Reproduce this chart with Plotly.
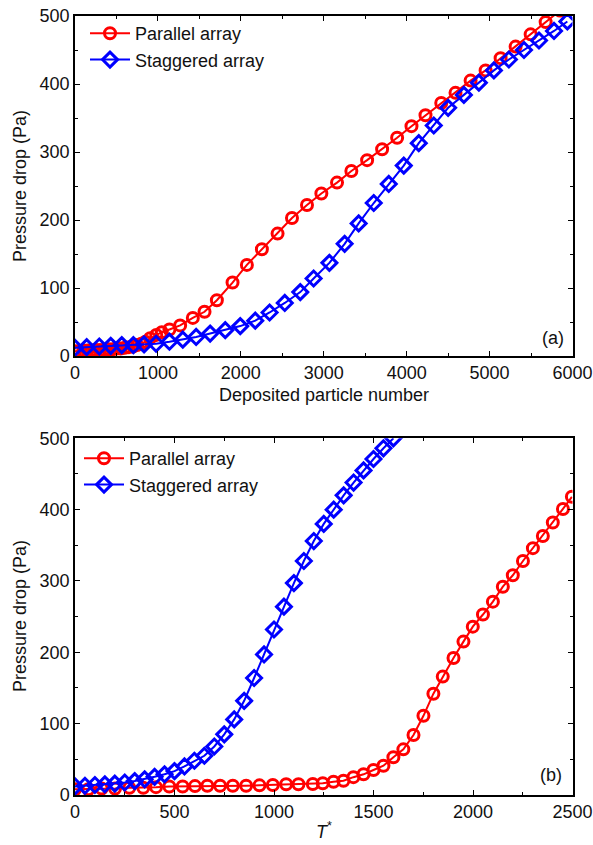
import plotly.graph_objects as go

# ---- panel (a): pressure drop vs deposited particle number ----
par_n = [0, 50, 100, 150, 200, 250, 300, 350, 400, 450, 500, 550, 600, 650, 700,
         750, 800, 850, 906, 980, 1047, 1139, 1268, 1421, 1562, 1711, 1900, 2073,
         2254, 2443, 2617, 2798, 2971, 3160, 3333, 3523, 3704, 3885, 4058, 4227,
         4417, 4589, 4771, 4952, 5133, 5314, 5495, 5676, 5850]
par_dp_n = [7, 7, 8, 8, 8, 9, 9, 9, 10, 10, 11, 11, 12, 13, 14,
            16, 18, 21, 26, 31, 35, 39, 45, 56, 65, 82, 108, 134,
            157, 180, 203, 222, 239, 255, 272, 288, 304, 321, 338, 354,
            372, 387, 405, 420, 438, 455, 473, 491, 508]

stg_n = [0, 141, 293, 431, 564, 704, 833, 978, 1139, 1300, 1461, 1630, 1812, 1993,
         2174, 2347, 2530, 2717, 2878, 3068, 3252, 3421, 3603, 3784, 3965, 4146,
         4327, 4500, 4690, 4871, 5052, 5233, 5415, 5596, 5777, 5938]
stg_dp_n = [12, 13, 14, 15, 16, 16, 17, 18, 21, 24, 28, 33, 38, 44,
            52, 64, 78, 94, 114, 137, 165, 195, 225, 253, 280, 313,
            339, 365, 384, 402, 420, 436, 450, 464, 478, 492]

# ---- panel (b): pressure drop vs dimensionless time T* ----
par_t = [0, 67, 134, 201, 273, 343, 407, 474, 541, 603, 665, 729, 793, 860, 927,
         994, 1061, 1123, 1195, 1245, 1299, 1349, 1399, 1450, 1500, 1550, 1600,
         1650, 1701, 1751, 1801, 1848, 1902, 1952, 1999, 2050, 2100, 2150, 2200,
         2251, 2301, 2351, 2401, 2452, 2497]
par_dp_t = [8, 8, 9, 9, 10, 10, 11, 12, 12, 12.5, 13, 13, 13, 13, 13.5,
            14, 15, 15, 15.5, 16.5, 18.5, 20, 25, 29, 35, 41, 53,
            64, 84, 111, 142, 166, 192, 215, 236, 253, 271, 292, 308,
            328, 346, 363, 382, 401, 418]

stg_t = [0, 50, 100, 150, 200, 250, 300, 350, 400, 450, 500, 550, 600, 650, 700,
         750, 800, 850, 900, 950, 1000, 1050, 1100, 1150, 1200, 1250, 1300, 1350,
         1400, 1450, 1500, 1550, 1600]
stg_dp_t = [12, 13, 14, 15, 16, 17.5, 19.5, 22, 25.5, 29, 33.5, 40, 48, 55, 68,
            85, 106, 132, 164, 197, 232, 264, 297, 328, 356, 380, 400, 420,
            438, 455, 471, 486, 500]

RED = "#FF0000"
BLUE = "#0000FF"
INK = "#111111"
FONT = "Liberation Sans, Arial, sans-serif"
FS = 18

W, H = 593, 845


def px_x(p):
    return p / W


def px_y(p):
    return 1 - p / H


fig = go.Figure()


def add_pair(xr, yr, xb, yb, xa, ya, legend):
    fig.add_trace(go.Scatter(
        x=xr, y=yr, name="Parallel array", mode="lines+markers",
        xaxis=xa, yaxis=ya, legend=legend,
        line=dict(color=RED, width=2),
        marker=dict(symbol="circle-open", size=11, color=RED, line=dict(width=3)),
    ))
    fig.add_trace(go.Scatter(
        x=xb, y=yb, name="Staggered array", mode="lines+markers",
        xaxis=xa, yaxis=ya, legend=legend,
        line=dict(color=BLUE, width=2),
        marker=dict(symbol="diamond-open", size=11.5, color=BLUE, line=dict(width=3)),
    ))


add_pair(par_n, par_dp_n, stg_n, stg_dp_n, "x", "y", "legend")
add_pair(par_t, par_dp_t, stg_t, stg_dp_t, "x2", "y2", "legend2")

axis_common = dict(
    showline=True, linecolor="black", linewidth=1.5, mirror="ticks",
    ticks="inside", ticklen=5, tickwidth=1.2, tickcolor="black",
    showgrid=False, zeroline=False, automargin=False,
    tickfont=dict(family=FONT, size=FS, color=INK),
)
minor_t = dict(ticks="inside", ticklen=3, tickwidth=1, tickcolor="black")

x_dom = [px_x(75), px_x(572.5)]
top_dom = [px_y(356), px_y(16)]
bot_dom = [px_y(795), px_y(438.3)]


def text(t, x, y, angle=0, xanchor="center", size=FS):
    return dict(text=t, x=px_x(x), y=px_y(y), xref="paper", yref="paper",
                xanchor=xanchor, yanchor="middle", showarrow=False, textangle=angle,
                font=dict(family=FONT, size=size, color=INK))


legend_common = dict(xanchor="left", yanchor="top", bgcolor="rgba(0,0,0,0)",
                     font=dict(family=FONT, size=FS, color=INK),
                     tracegroupgap=0, itemwidth=40)

fig.update_layout(
    template="none",
    width=W, height=H,
    margin=dict(l=0, r=0, t=0, b=0, autoexpand=False),
    paper_bgcolor="white", plot_bgcolor="white",
    font=dict(family=FONT, size=FS, color=INK),
    showlegend=True,
    xaxis=dict(axis_common, domain=x_dom, anchor="y", range=[0, 6000],
               dtick=1000, minor=dict(minor_t, dtick=500)),
    yaxis=dict(axis_common, domain=top_dom, anchor="x",
               range=[0, 500], dtick=100, minor=dict(minor_t, dtick=50)),
    xaxis2=dict(axis_common, domain=x_dom, anchor="y2", range=[0, 2500],
                dtick=500, minor=dict(minor_t, dtick=250)),
    yaxis2=dict(axis_common, domain=bot_dom, anchor="x2",
                range=[0, 500], dtick=100, minor=dict(minor_t, dtick=50)),
    legend=dict(legend_common, x=px_x(85), y=px_y(15)),
    legend2=dict(legend_common, x=px_x(79), y=px_y(440)),
    annotations=[
        text("Deposited particle number", 323.5, 395),
        text("Pressure drop (Pa)", 20, 186, angle=-90),
        text("<i>T</i><sup>*</sup>", 323.5, 830),
        text("Pressure drop (Pa)", 20, 616, angle=-90),
        text("(a)", 566, 338, xanchor="right"),
        text("(b)", 564, 775, xanchor="right"),
    ],
)

fig.write_html("out.html")
